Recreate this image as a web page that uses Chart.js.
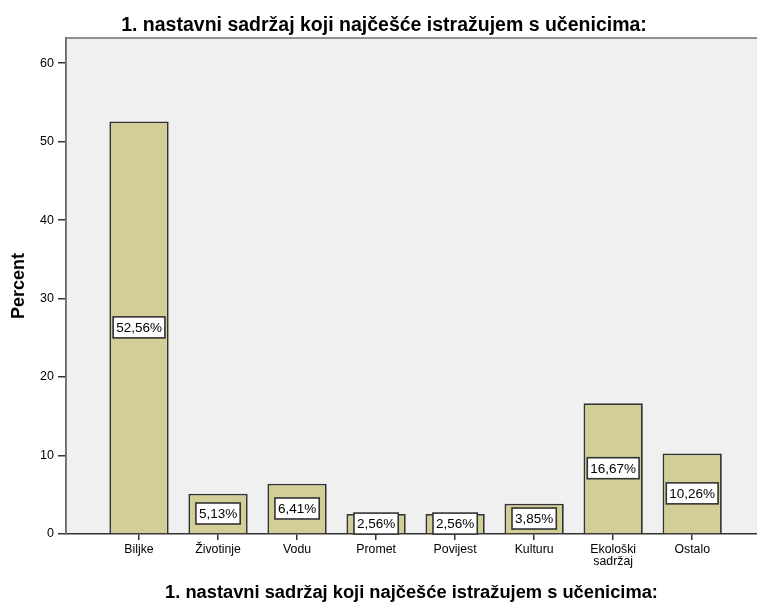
<!DOCTYPE html>
<html>
<head>
<meta charset="utf-8">
<script src="https://cdn.jsdelivr.net/npm/chart.js@4/dist/chart.umd.min.js"></script>
<style>
  html, body { margin: 0; padding: 0; background: #fff; }
  #wrap { width: 757px; height: 603px; }
</style>
</head>
<body>
<div id="wrap"><canvas id="c" width="757" height="603"></canvas></div>
<script>
const TITLE = '1. nastavni sadržaj koji najčešće istražujem s učenicima:';
const categories = [ 'Biljke', 'Životinje', 'Vodu', 'Promet', 'Povijest', 'Kulturu', [ 'Ekološki', 'sadržaj' ], 'Ostalo' ];
const percents = [ 52.56, 5.13, 6.41, 2.56, 2.56, 3.85, 16.67, 10.26 ];
const yTicks = [ 0, 10, 20, 30, 40, 50, 60 ];

const FONT = '"Liberation Sans", Arial, sans-serif';
const EDGE = '#333333';

function pctLabel( v ) {
    return v.toFixed( 2 ).replace( '.', ',' ) + '%';
}

// plot background, frame, top title and boxed value labels
const decor = {
    id: 'decor',
    beforeDraw( chart ) {
        const { ctx, chartArea: a } = chart;
        ctx.save();
        ctx.fillStyle = '#f0f0f0';
        ctx.fillRect( a.left, a.top, a.right - a.left, a.bottom - a.top );
        ctx.restore();
    },
    afterDraw( chart ) {
        const { ctx, chartArea: a } = chart;
        ctx.save();
        ctx.strokeStyle = '#6e6e6e';
        ctx.lineWidth = 1.5;
        ctx.beginPath();
        ctx.moveTo( a.left, a.bottom );
        ctx.lineTo( a.left, a.top );
        ctx.lineTo( a.right, a.top );
        ctx.stroke();

        ctx.fillStyle = '#000';
        ctx.font = 'bold 19.5px ' + FONT;
        ctx.textAlign = 'center';
        ctx.textBaseline = 'alphabetic';
        ctx.fillText( TITLE, 384, 31 );

        ctx.font = '13.5px ' + FONT;
        ctx.textBaseline = 'middle';
        const meta = chart.getDatasetMeta( 0 );
        meta.data.forEach( ( bar, i ) => {
            const text = pctLabel( percents[ i ] );
            const w = ctx.measureText( text ).width + 6;
            const h = 21;
            const cy = ( bar.y + bar.base ) / 2;
            ctx.fillStyle = '#fff';
            ctx.fillRect( bar.x - w / 2, cy - h / 2, w, h );
            ctx.strokeStyle = '#333';
            ctx.lineWidth = 1.6;
            ctx.strokeRect( bar.x - w / 2, cy - h / 2, w, h );
            ctx.fillStyle = '#000';
            ctx.fillText( text, bar.x, cy + 1 );
        } );
        ctx.restore();
    },
};

new Chart( document.getElementById( 'c' ), {
    type: 'bar',
    data: {
        datasets: [ {
            data: percents.map( ( v, i ) => ( { x: i + 1, y: v } ) ),
            backgroundColor: '#d3ce97',
            borderColor: EDGE,
            borderWidth: 1.8,
            barPercentage: 0.75,
            categoryPercentage: 1,
        } ],
    },
    options: {
        responsive: false,
        animation: false,
        layout: { padding: { top: 38, right: 0, left: 0, bottom: 0 } },
        plugins: { legend: { display: false }, tooltip: { enabled: false } },
        scales: {
            x: {
                type: 'linear',
                offset: false,
                min: 0.076,
                max: 8.82,
                afterFit: ( s ) => { s.height = 69; },
                afterBuildTicks: ( s ) => { s.ticks = categories.map( ( c, i ) => ( { value: i + 1 } ) ); },
                ticks: {
                    autoSkip: false,
                    maxRotation: 0,
                    color: '#000',
                    padding: 3,
                    font: { family: FONT, size: 12.3, lineHeight: 1.0 },
                    callback: ( v ) => categories[ v - 1 ],
                },
                grid: { offset: false, drawOnChartArea: false, drawTicks: true, tickLength: 6, color: EDGE, lineWidth: 1.5 },
                border: { color: EDGE, width: 1.5 },
                title: {
                    display: true,
                    text: TITLE,
                    color: '#000',
                    font: { family: FONT, size: 18.3, weight: 'bold', lineHeight: 1.1 },
                    padding: { top: 0, bottom: 0 },
                },
            },
            y: {
                min: 0,
                max: 63.2,
                afterFit: ( s ) => { s.width = 66; },
                afterBuildTicks: ( s ) => { s.ticks = yTicks.map( ( v ) => ( { value: v } ) ); },
                ticks: { color: '#000', padding: 4, font: { family: FONT, size: 12.5 } },
                grid: { drawOnChartArea: false, drawTicks: true, tickLength: 8, color: EDGE, lineWidth: 1.5 },
                border: { color: '#6e6e6e', width: 1.5 },
                title: {
                    display: true,
                    text: 'Percent',
                    color: '#000',
                    font: { family: FONT, size: 18, weight: 'bold' },
                    padding: { top: 8, bottom: 0 },
                },
            },
        },
    },
    plugins: [ decor ],
} );
</script>
</body>
</html>
